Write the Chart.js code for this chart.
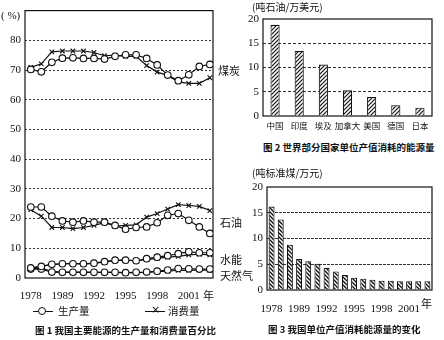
<!DOCTYPE html>
<html>
<head>
<meta charset="utf-8">
<script src="https://cdn.jsdelivr.net/npm/chart.js@4"></script>
<style>
body{margin:0;background:#fff;}
#wrap{position:relative;width:444px;height:340px;overflow:hidden;font-family:"Noto Sans CJK SC",sans-serif;color:#111;}
canvas{position:absolute;}
.t{position:absolute;white-space:nowrap;font-size:10px;line-height:12px;z-index:2;}
.cap{font-weight:bold;font-size:9.5px;}
.side{font-size:11px;}
.ln{position:absolute;border-top:1.3px solid #111;z-index:2;}
.dot{position:absolute;width:6px;height:6px;border:1.2px solid #111;border-radius:50%;background:#fff;z-index:3;}
</style>
</head>
<body>
<div id="wrap">
  <canvas id="c1" width="230" height="305" style="left:0;top:0"></canvas>
  <canvas id="c2" width="214" height="135" style="left:230px;top:0"></canvas>
  <canvas id="c3" width="214" height="160" style="left:230px;top:160px"></canvas>

  <div class="t" style="left:1px;top:9px;font-family:'Liberation Serif','DejaVu Serif',serif;font-size:11px">( %)</div>
  <div class="t" style="left:203px;top:289px;font-size:11px">年</div>
  <div class="t side" style="left:218px;top:64px">煤炭</div>
  <div class="t side" style="left:220px;top:216px">石油</div>
  <div class="t side" style="left:220px;top:253px">水能</div>
  <div class="t side" style="left:220px;top:269px">天然气</div>

  <div class="ln" style="left:33px;top:311px;width:20px"></div>
  <div class="dot" style="left:38px;top:307px"></div>
  <div class="t" style="left:58px;top:305px;font-size:10.5px">生产量</div>
  <div class="ln" style="left:145px;top:311px;width:20px"></div>
  <div class="t" style="left:151px;top:304px;font-size:11px;font-family:'DejaVu Sans'">×</div>
  <div class="t" style="left:168px;top:305px;font-size:10.5px">消费量</div>
  <div class="t cap" style="left:35px;top:324px">图 1 我国主要能源的生产量和消费量百分比</div>

  <div class="t" style="left:252px;top:1px">(吨石油/万美元)</div>
  <div class="t cap" style="left:263px;top:141px">图 2 世界部分国家单位产值消耗的能源量</div>

  <div class="t" style="left:252px;top:167px">(吨标准煤/万元)</div>
  <div class="t" style="left:421px;top:297px;font-size:11px">年</div>
  <div class="t cap" style="left:268px;top:323px">图 3 我国单位产值消耗能源量的变化</div>
</div>
<script>
// years along the bottom of figures 1 and 3
const years = ['1978','1980','1985','1989','1990','1991','1992','1993','1994','1995','1996','1997','1998','1999','2000','2001','2002','2003'];
const yearTicks = [0, 3, 6, 9, 12, 15];

// share of energy production / consumption, %
const coalProd  = [70.2, 69.4, 72.6, 74.0, 74.1, 73.9, 73.9, 73.7, 74.6, 75.1, 75.1, 73.9, 71.7, 68.3, 66.4, 68.4, 71.2, 71.9];
const coalCons  = [70.9, 72.1, 76.1, 76.4, 76.4, 76.4, 75.9, 74.8, 75.0, 74.6, 74.6, 71.5, 69.3, 68.2, 66.0, 65.5, 65.5, 67.4];
const oilProd   = [23.9, 23.9, 20.8, 19.2, 18.8, 19.2, 18.8, 18.8, 17.7, 16.4, 17.0, 17.2, 18.6, 21.1, 21.7, 19.4, 17.2, 15.0];
const oilCons   = [23.0, 20.8, 17.0, 17.0, 16.6, 17.0, 17.7, 18.6, 17.5, 17.7, 17.9, 20.5, 21.7, 23.2, 24.7, 24.4, 24.1, 22.7];
const hydroProd = [3.4, 3.9, 4.6, 4.8, 4.8, 4.8, 5.0, 5.5, 6.0, 6.0, 5.8, 6.5, 7.0, 7.5, 8.2, 8.8, 8.5, 8.5];
const hydroCons = [3.2, 4.0, 4.5, 4.8, 4.9, 4.7, 4.9, 5.4, 5.8, 6.0, 5.8, 6.2, 6.6, 7.0, 7.3, 7.8, 8.0, 7.8];
const gasProd   = [3.0, 3.0, 2.0, 1.9, 1.9, 1.9, 1.9, 1.9, 1.9, 1.8, 1.9, 2.0, 2.3, 2.7, 3.2, 3.1, 3.0, 3.0];
const gasCons   = [3.2, 3.3, 2.2, 2.0, 2.0, 2.0, 1.9, 1.9, 1.9, 1.8, 1.8, 1.9, 2.1, 2.3, 2.6, 2.6, 2.7, 2.6];

// figure 2
const countries = ['中国','印度','埃及','加拿大','美国','德国','日本'];
const countryEnergy = [18.8, 13.4, 10.6, 5.3, 3.9, 2.2, 1.7];

// figure 3
const chinaEnergy = [16.2, 13.7, 8.8, 6.0, 5.6, 5.1, 4.3, 3.6, 2.9, 2.4, 2.2, 2.0, 1.8, 1.8, 1.7, 1.7, 1.7, 1.7];

const INK = '#111';
const numFont = {family: "'Liberation Serif', 'DejaVu Serif', serif", size: 11};
const cjkFont = {family: "'Noto Sans CJK SC'", size: 8.5};

const frame = {
  id: 'frame',
  beforeDatasetsDraw(chart) {
    const a = chart.chartArea, c = chart.ctx;
    c.save();
    c.strokeStyle = INK;
    c.lineWidth = 1.2;
    c.strokeRect(a.left, a.top, a.right - a.left, a.bottom - a.top);
    c.restore();
  }
};

function hatch(ctx, back) {
  const p = document.createElement('canvas');
  p.width = p.height = 4;
  const g = p.getContext('2d');
  g.fillStyle = '#fff';
  g.fillRect(0, 0, 4, 4);
  g.strokeStyle = INK;
  g.lineWidth = back ? 1.4 : 1.2;
  g.beginPath();
  if (back) {
    g.moveTo(-1, -1); g.lineTo(5, 5);
    g.moveTo(3, -1); g.lineTo(5, 1);
    g.moveTo(-1, 3); g.lineTo(1, 5);
  } else {
    g.moveTo(-1, 5); g.lineTo(5, -1);
    g.moveTo(-1, 1); g.lineTo(1, -1);
    g.moveTo(3, 5); g.lineTo(5, 3);
  }
  g.stroke();
  return ctx.createPattern(p, 'repeat');
}

function series(data, prod) {
  return {
    data: data.map((v, i) => ({x: i, y: v})),
    borderColor: INK,
    borderWidth: 1.2,
    pointStyle: prod ? 'circle' : 'crossRot',
    pointRadius: prod ? 3.3 : 3.2,
    pointBackgroundColor: '#fff',
    pointBorderColor: INK,
    pointBorderWidth: 1.1
  };
}

const common = {
  responsive: false,
  animation: false,
  devicePixelRatio: 1,
  plugins: {legend: {display: false}, tooltip: {enabled: false}}
};

function yAxis(max, step, width, dash) {
  return {
    min: 0, max: max,
    afterFit: s => { s.width = width; },
    border: {display: false, dash: dash},
    grid: {
      drawTicks: false,
      color: c => (c.tick.value === 0 || c.tick.value === max) ? 'rgba(0,0,0,0)' : '#333'
    },
    ticks: {
      stepSize: step, padding: 4, color: INK, font: numFont,
      callback: v => v === max && max === 90 ? '' : v
    }
  };
}

// figure 1: production / consumption shares
new Chart(document.getElementById('c1'), {
  type: 'line',
  data: {
    datasets: [
      series(coalProd, true), series(oilProd, true), series(hydroProd, true), series(gasProd, true),
      series(coalCons, false), series(oilCons, false), series(hydroCons, false), series(gasCons, false)
    ]
  },
  options: {
    ...common,
    layout: {padding: {top: 6, right: 17, left: 0, bottom: 0}},
    scales: {
      x: {
        type: 'linear', min: -0.55, max: 17.3,
        afterFit: s => { s.height = 27; },
        afterBuildTicks: s => { s.ticks = yearTicks.map(v => ({value: v})); },
        border: {display: false},
        grid: {display: false, drawTicks: false},
        ticks: {padding: 12, color: INK, font: numFont, autoSkip: false, maxRotation: 0,
                callback: v => years[v]}
      },
      y: yAxis(90, 10, 25, [2, 2])
    }
  },
  plugins: [frame]
});

// figure 2: energy per unit of output by country
const c2 = document.getElementById('c2');
new Chart(c2, {
  type: 'bar',
  data: {
    labels: countries,
    datasets: [{
      data: countryEnergy,
      backgroundColor: hatch(c2.getContext('2d'), false),
      borderColor: INK, borderWidth: 1.1,
      categoryPercentage: 1, barPercentage: 0.38
    }]
  },
  options: {
    ...common,
    layout: {padding: {top: 19, right: 12, left: 0, bottom: 0}},
    scales: {
      x: {
        afterFit: s => { s.height = 19; },
        border: {display: false},
        grid: {display: false, drawTicks: false},
        ticks: {padding: 5, color: INK, font: cjkFont, autoSkip: false, maxRotation: 0}
      },
      y: yAxis(20, 5, 33, [3, 2])
    }
  },
  plugins: [frame]
});

// figure 3: China's energy per unit of output over time
const c3 = document.getElementById('c3');
new Chart(c3, {
  type: 'bar',
  data: {
    labels: years,
    datasets: [{
      data: chinaEnergy,
      backgroundColor: hatch(c3.getContext('2d'), true),
      borderColor: INK, borderWidth: 1.1,
      categoryPercentage: 1, barPercentage: 0.65
    }]
  },
  options: {
    ...common,
    layout: {padding: {top: 27, right: 12, left: 0, bottom: 0}},
    scales: {
      x: {
        afterFit: s => { s.height = 30; },
        border: {display: false},
        grid: {display: false, drawTicks: false},
        ticks: {padding: 13, color: INK, font: numFont, autoSkip: false, maxRotation: 0,
                callback: (v, i) => yearTicks.includes(i) ? years[i] : ''}
      },
      y: yAxis(20, 5, 37, [3, 1])
    }
  },
  plugins: [frame]
});
</script>
</body>
</html>
